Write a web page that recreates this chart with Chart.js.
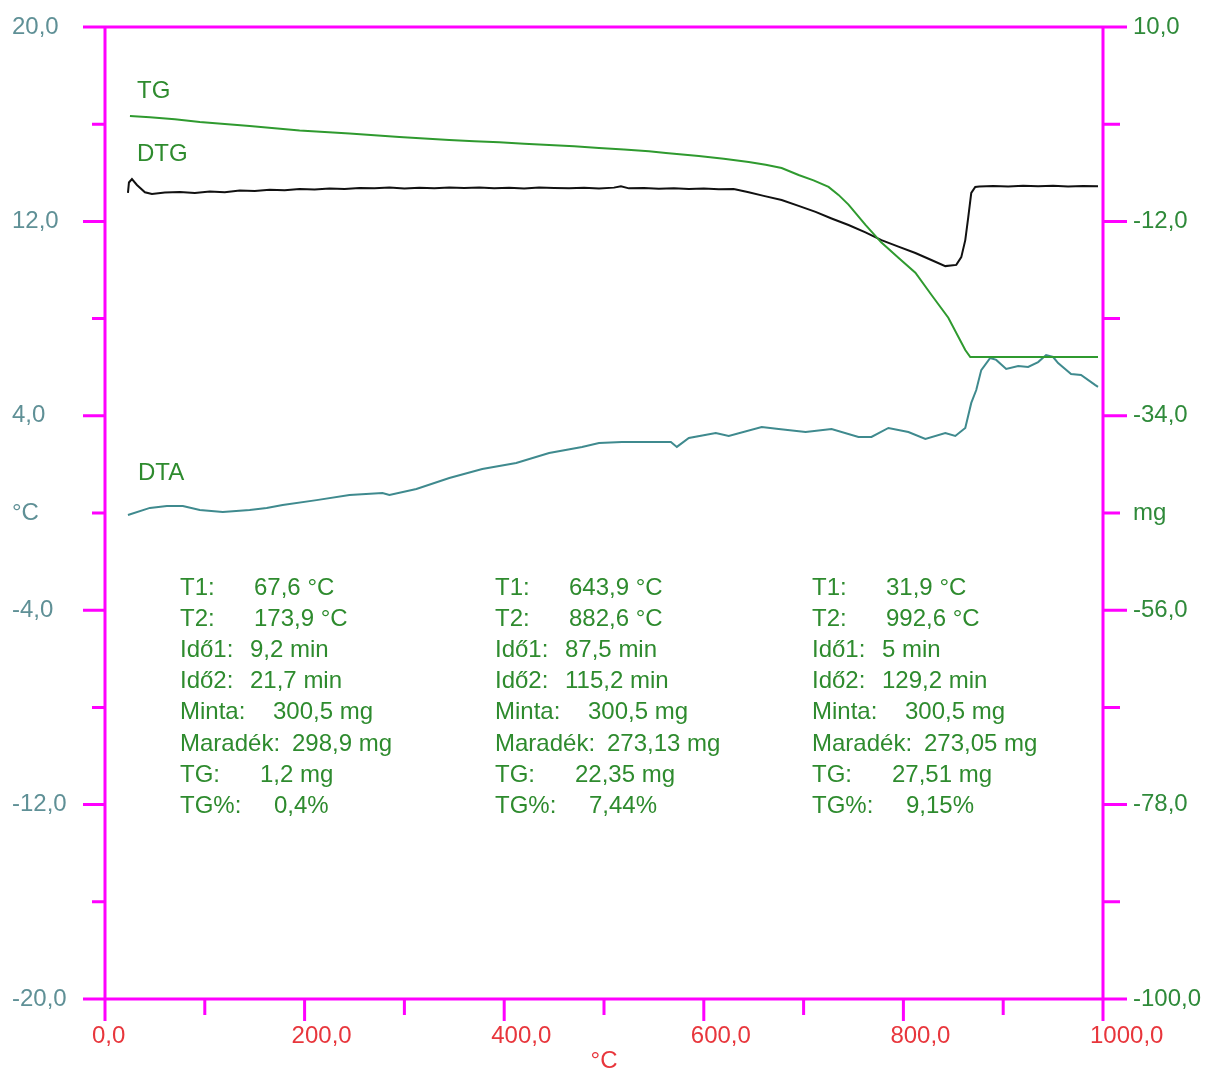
<!DOCTYPE html>
<html>
<head>
<meta charset="utf-8">
<script src="https://cdn.jsdelivr.net/npm/chart.js@4/dist/chart.umd.min.js"></script>
<style>
html,body{margin:0;padding:0;background:#fff;}
#wrap{width:1206px;height:1073px;position:relative;}
</style>
</head>
<body>
<div id="wrap"><canvas id="c"></canvas></div>
<script>
// ---------- DATA ----------
const xTickValues = [0,100,200,300,400,500,600,700,800,900,1000];
const xLabelValues = [0,200,400,600,800,1000];
const leftTickValues = [-20,-16,-12,-8,-4,0,4,8,12,16,20];
const leftLabelValues = [-20,-12,-4,4,12,20];
const leftUnitValue = 0;
const leftUnit = '°C';
const rightTickValues = [-100,-89,-78,-67,-56,-45,-34,-23,-12,-1,10];
const rightLabelValues = [-100,-78,-56,-34,-12,10];
const rightUnitValue = -45;
const rightUnit = 'mg';
const xTitle = '°C';

// TG (mg, right axis)
const tgTemp = [25,45,70,95,120,145,170,195,220,245,270,295,320,345,370,395,420,445,470,495,520,545,562,595,620,645,662,678,695,710,725,735,745,762,778,795,812,828,845,862,867,900,950,995];
const tgMass = [-0.07,-0.2,-0.45,-0.75,-0.98,-1.2,-1.45,-1.7,-1.88,-2.05,-2.25,-2.45,-2.63,-2.8,-2.92,-3.05,-3.2,-3.35,-3.5,-3.7,-3.85,-4.05,-4.26,-4.6,-4.9,-5.28,-5.6,-5.96,-6.75,-7.35,-8.1,-9.0,-10.1,-12.4,-14.4,-16.1,-17.8,-20.3,-22.9,-26.55,-27.35,-27.35,-27.35,-27.35];

// DTG (left axis units)
const dtgTemp = [23,24,27,32,40,47,60,75,90,105,120,135,150,165,180,195,210,225,240,255,270,285,300,315,330,345,360,375,390,405,420,435,450,465,480,495,510,517,525,540,555,570,585,600,615,630,645,660,678,695,712,728,745,762,778,795,812,828,842,853,858,862,865,868,872,876,890,905,920,935,950,965,980,995];
const dtgValue = [13.17,13.6,13.74,13.5,13.2,13.13,13.19,13.21,13.17,13.23,13.2,13.27,13.25,13.3,13.28,13.33,13.31,13.35,13.33,13.37,13.36,13.39,13.35,13.38,13.36,13.4,13.37,13.39,13.36,13.38,13.35,13.39,13.37,13.36,13.38,13.35,13.39,13.45,13.36,13.37,13.34,13.36,13.33,13.35,13.32,13.33,13.2,13.05,12.88,12.64,12.39,12.12,11.85,11.55,11.23,10.96,10.7,10.41,10.16,10.21,10.53,11.23,12.18,13.17,13.42,13.44,13.46,13.44,13.47,13.45,13.47,13.44,13.46,13.45];

// DTA (°C, left axis)
const dtaTemp = [23,45,62,78,95,118,145,162,178,212,245,278,285,312,345,378,412,445,478,495,518,567,573,585,612,625,658,675,702,728,755,768,785,805,822,842,852,862,868,873,878,887,893,903,915,925,935,943,950,955,968,978,992,995];
const dtaValue = [-0.08,0.21,0.29,0.29,0.12,0.04,0.12,0.21,0.33,0.53,0.74,0.82,0.74,0.99,1.44,1.81,2.06,2.47,2.72,2.88,2.92,2.92,2.72,3.09,3.29,3.17,3.54,3.46,3.33,3.46,3.13,3.13,3.5,3.33,3.05,3.29,3.17,3.5,4.53,5.06,5.88,6.38,6.3,5.93,6.05,6.01,6.21,6.5,6.42,6.17,5.72,5.68,5.27,5.19];

// Curve names
const curveNames = ['TG','DTG','DTA'];

// Info blocks
const infoLabels = ['T1:','T2:','Idő1:','Idő2:','Minta:','Maradék:','TG:','TG%:'];
const block1Values = ['67,6 °C','173,9 °C','9,2 min','21,7 min','300,5 mg','298,9 mg','1,2 mg','0,4%'];
const block2Values = ['643,9 °C','882,6 °C','87,5 min','115,2 min','300,5 mg','273,13 mg','22,35 mg','7,44%'];
const block3Values = ['31,9 °C','992,6 °C','5 min','129,2 min','300,5 mg','273,05 mg','27,51 mg','9,15%'];

// ---------- STYLE / LAYOUT ----------
const FONT = "'Liberation Sans', Arial, sans-serif";
const MAGENTA = '#ff00ff';
const LEFT_COLOR = '#5f9096';
const RIGHT_COLOR = '#2f8a3a';
const X_COLOR = '#e8363c';
const TEXT_GREEN = '#2e8b2e';
const TG_COLOR = '#2f9a2f';
const DTG_COLOR = '#111111';
const DTA_COLOR = '#3f8a8e';

const fmt = v => v.toFixed(1).replace('.', ',');
const pts = (xs, ys) => xs.map((x, i) => ({x: x, y: ys[i]}));

const framePlugin = {
  id: 'frame',
  beforeDatasetsDraw(chart) {
    const ctx = chart.ctx;
    const xs = chart.scales.x, yl = chart.scales.yL, yr = chart.scales.yR;
    const x0 = xs.getPixelForValue(0), x1 = xs.getPixelForValue(1000);
    const yTop = yl.getPixelForValue(20), yBot = yl.getPixelForValue(-20);
    ctx.save();
    ctx.strokeStyle = MAGENTA;
    ctx.lineWidth = 3;
    ctx.lineCap = 'butt';
    ctx.beginPath();
    ctx.moveTo(x0, yTop); ctx.lineTo(x1, yTop);
    ctx.moveTo(x0, yBot); ctx.lineTo(x1, yBot);
    ctx.moveTo(x0, yTop - 1.5); ctx.lineTo(x0, yBot + 22);
    ctx.moveTo(x1, yTop - 1.5); ctx.lineTo(x1, yBot + 22);
    leftTickValues.forEach(v => {
      const y = yl.getPixelForValue(v);
      const len = leftLabelValues.includes(v) ? 22 : 13;
      ctx.moveTo(x0 - len, y); ctx.lineTo(x0, y);
    });
    rightTickValues.forEach(v => {
      const y = yr.getPixelForValue(v);
      const len = rightLabelValues.includes(v) ? 24 : 17;
      ctx.moveTo(x1, y); ctx.lineTo(x1 + len, y);
    });
    xTickValues.forEach(v => {
      const x = xs.getPixelForValue(v);
      const len = xLabelValues.includes(v) ? 22 : 16;
      ctx.moveTo(x, yBot); ctx.lineTo(x, yBot + len);
    });
    ctx.stroke();
    ctx.restore();
  },
  afterDraw(chart) {
    const ctx = chart.ctx;
    ctx.save();
    ctx.font = '24px ' + FONT;
    ctx.fillStyle = TEXT_GREEN;
    ctx.textBaseline = 'middle';
    ctx.textAlign = 'left';
    const namePos = [[137, 91], [137, 154], [138, 473]];
    curveNames.forEach((n, i) => ctx.fillText(n, namePos[i][0], namePos[i][1]));
    const blocks = [block1Values, block2Values, block3Values];
    const blockX = [180, 495, 812];
    const valueOffset = [74, 74, 70, 70, 93, 112, 80, 94];
    const y0 = 588, dy = 31.2;
    blocks.forEach((vals, b) => {
      infoLabels.forEach((lab, i) => {
        const y = y0 + i * dy;
        ctx.fillText(lab, blockX[b], y);
        ctx.fillText(vals[i], blockX[b] + valueOffset[i], y);
      });
    });
    ctx.restore();
  }
};

Chart.defaults.font.family = FONT;
Chart.defaults.font.size = 24;

new Chart(document.getElementById('c'), {
  type: 'line',
  data: {
    datasets: [
      {label: 'TG', data: pts(tgTemp, tgMass), yAxisID: 'yR', borderColor: TG_COLOR, borderWidth: 2, pointRadius: 0, tension: 0, fill: false},
      {label: 'DTG', data: pts(dtgTemp, dtgValue), yAxisID: 'yL', borderColor: DTG_COLOR, borderWidth: 2, pointRadius: 0, tension: 0, fill: false},
      {label: 'DTA', data: pts(dtaTemp, dtaValue), yAxisID: 'yL', borderColor: DTA_COLOR, borderWidth: 2, pointRadius: 0, tension: 0, fill: false}
    ]
  },
  options: {
    responsive: true,
    maintainAspectRatio: false,
    animation: false,
    layout: {padding: {left: 12, right: 0, top: 27, bottom: 0}},
    plugins: {legend: {display: false}, tooltip: {enabled: false}},
    scales: {
      x: {
        type: 'linear', position: 'bottom', min: 0, max: 1000,
        afterBuildTicks: s => { s.ticks = xTickValues.map(v => ({value: v})); },
        afterFit: s => { s.height = 74; },
        grid: {display: false, drawTicks: true, tickLength: 23},
        border: {display: false},
        ticks: {
          color: X_COLOR, autoSkip: false, maxRotation: 0, minRotation: 0,
          align: 'start', labelOffset: -13, padding: 0,
          callback: v => xLabelValues.includes(v) ? fmt(v) : ''
        },
        title: {display: true, text: xTitle, color: X_COLOR, font: {size: 24, lineHeight: 1}, padding: 0}
      },
      yL: {
        type: 'linear', position: 'left', min: -20, max: 20,
        afterBuildTicks: s => { s.ticks = leftTickValues.map(v => ({value: v})); },
        afterFit: s => { s.width = 93; },
        grid: {display: false, drawTicks: false},
        border: {display: false},
        ticks: {
          color: LEFT_COLOR, crossAlign: 'far', padding: 0, autoSkip: false,
          callback: v => v === leftUnitValue ? leftUnit : (leftLabelValues.includes(v) ? fmt(v) : '')
        }
      },
      yR: {
        type: 'linear', position: 'right', min: -100, max: 10,
        afterBuildTicks: s => { s.ticks = rightTickValues.map(v => ({value: v})); },
        afterFit: s => { s.width = 103; },
        grid: {display: false, drawTicks: true, tickLength: 30},
        border: {display: false},
        ticks: {
          color: RIGHT_COLOR, crossAlign: 'near', padding: 0, autoSkip: false,
          callback: v => v === rightUnitValue ? rightUnit : (rightLabelValues.includes(v) ? fmt(v) : '')
        }
      }
    }
  },
  plugins: [framePlugin]
});
</script>
</body>
</html>
